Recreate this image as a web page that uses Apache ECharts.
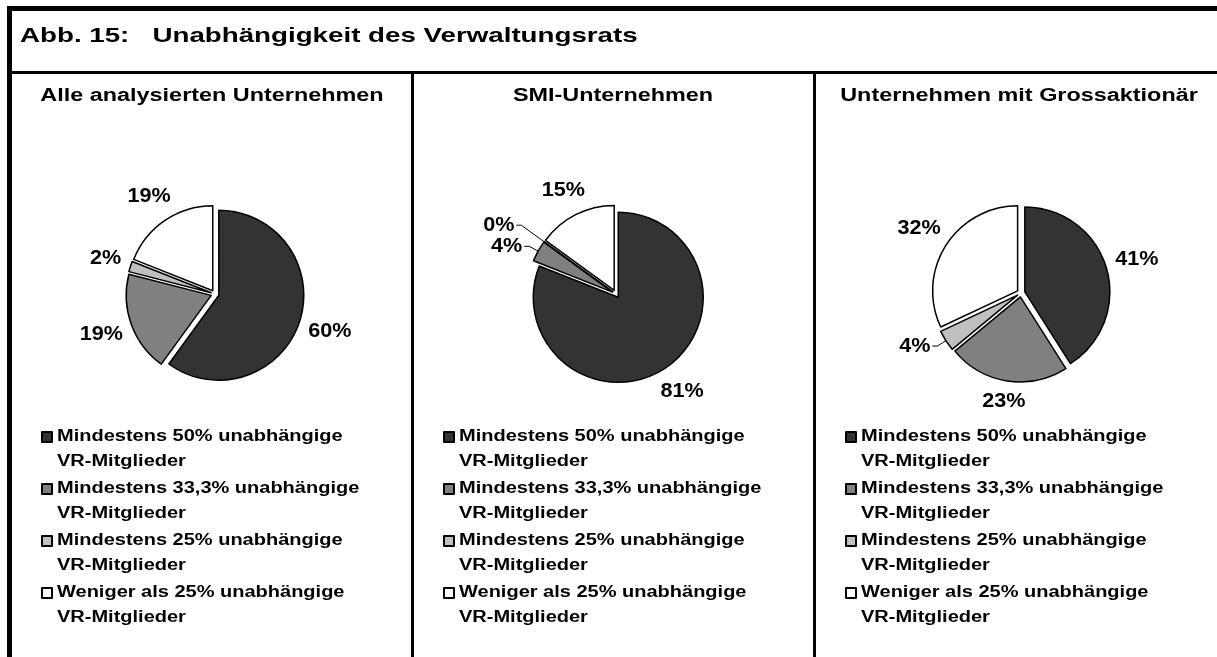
<!DOCTYPE html>
<html><head><meta charset="utf-8">
<script src="https://cdn.jsdelivr.net/npm/echarts@6/dist/echarts.min.js"></script>
<style>html,body{margin:0;padding:0;background:#fff}#c{width:1217px;height:657px}</style>
</head><body><div id="c"></div>
<script>
// ---------- data ----------
const figureTitle = 'Abb. 15:   Unabhängigkeit des Verwaltungsrats';
const groups = ['Alle analysierten Unternehmen', 'SMI-Unternehmen', 'Unternehmen mit Grossaktionär'];
const categories = [
  'Mindestens 50% unabhängige VR-Mitglieder',
  'Mindestens 33,3% unabhängige VR-Mitglieder',
  'Mindestens 25% unabhängige VR-Mitglieder',
  'Weniger als 25% unabhängige VR-Mitglieder'
];
const valuesAlle = [60, 19, 2, 19];
const valuesSMI = [81, 4, 0, 15];
const valuesGross = [41, 23, 4, 32];

// ---------- styling ----------
const FONT = '"Liberation Sans", Arial, Helvetica, sans-serif';
const colors = ['#333333', '#808080', '#c0c0c0', '#ffffff'];
// the reference lettering is horizontally widened; keyed by font size
const STRETCH = { '21': 1.32, '18': 1.3, '16': 1.25, '20': 1.08 };
(function () {
  const proto = window.CanvasRenderingContext2D && CanvasRenderingContext2D.prototype;
  if (!proto) return;
  function stretchOf(ctx) {
    const m = /(\d+(?:\.\d+)?)px/.exec(ctx.font || '');
    return (m && STRETCH[m[1]]) || 1;
  }
  const oFill = proto.fillText, oStroke = proto.strokeText, oMeasure = proto.measureText;
  function wrap(orig) {
    return function (t, x, y, w) {
      const s = stretchOf(this);
      if (s === 1) return w === undefined ? orig.call(this, t, x, y) : orig.call(this, t, x, y, w);
      this.save();
      this.translate(x * (1 - s), 0);
      this.scale(s, 1);
      if (w === undefined) orig.call(this, t, x, y); else orig.call(this, t, x, y, w / s);
      this.restore();
    };
  }
  proto.fillText = wrap(oFill);
  proto.strokeText = wrap(oStroke);
  proto.measureText = function (t) {
    const m = oMeasure.call(this, t);
    const s = stretchOf(this);
    if (s === 1) return m;
    return {
      width: m.width * s,
      actualBoundingBoxLeft: m.actualBoundingBoxLeft * s,
      actualBoundingBoxRight: m.actualBoundingBoxRight * s,
      actualBoundingBoxAscent: m.actualBoundingBoxAscent,
      actualBoundingBoxDescent: m.actualBoundingBoxDescent,
      fontBoundingBoxAscent: m.fontBoundingBoxAscent,
      fontBoundingBoxDescent: m.fontBoundingBoxDescent
    };
  };
})();

const panels = [
  { values: valuesAlle, center: [215, 294], titleX: 212, legendX: 41, lines: [] },
  { values: valuesSMI, center: [616, 294], titleX: 613, legendX: 443, lines: [1, 2] },
  { values: valuesGross, center: [1021, 293], titleX: 1019, legendX: 845, lines: [2] }
];
const R = 85, OFFSET = 4, GAP = 4, LABEL_SIZE = 20;

const mctx = document.createElement('canvas').getContext('2d');
function textWidth(t) {
  mctx.font = 'bold ' + LABEL_SIZE + 'px ' + FONT;
  return mctx.measureText(t).width;
}

// slice-edge anchor points reported by the pie layout
const anchors = {};
function captureAnchor(params) {
  const pts = params.labelLinePoints;
  if (pts) anchors[params.seriesIndex + '-' + params.dataIndex] = pts[0].slice();
  return {};
}

function dataItems(p, tune) {
  return p.values.map((v, i) => {
    const item = {
      name: categories[i], value: v, selected: true,
      itemStyle: { color: colors[i] },
      select: { itemStyle: { color: colors[i] } },
      labelLine: { show: false, length: 8, length2: 0 }
    };
    if (tune && tune[i]) {
      const t = tune[i];
      item.label = { distanceToLabelLine: t.dist };
      item.labelLine = { show: t.leader, length: t.len, length2: t.len2 };
    }
    return item;
  });
}

const chart = echarts.init(document.getElementById('c'), null, { renderer: 'canvas' });

const series = panels.map((p, si) => ({
  type: 'pie',
  name: groups[si],
  center: p.center,
  radius: R,
  startAngle: 90,
  clockwise: true,
  avoidLabelOverlap: false,
  selectedMode: 'multiple',
  selectedOffset: OFFSET,
  animation: false,
  emphasis: { disabled: true },
  itemStyle: { borderColor: '#000', borderWidth: 1.5 },
  select: { itemStyle: { borderColor: '#000', borderWidth: 1.5 } },
  label: {
    show: true, position: 'outside', alignTo: 'none', color: '#000', fontFamily: FONT,
    fontSize: LABEL_SIZE, fontWeight: 'bold', formatter: q => q.value + '%'
  },
  labelLine: { show: false, length: 8, length2: 0, lineStyle: { color: '#000', width: 1 } },
  labelLayout: captureAnchor,
  data: dataItems(p)
}));

const legends = panels.map(p => ({
  orient: 'vertical',
  left: p.legendX,
  top: 399.5,
  padding: 0,
  itemWidth: 10,
  itemHeight: 10,
  itemGap: -23,
  icon: 'rect',
  selectedMode: false,
  // leading empty line keeps the marker level with the first text line
  formatter: n => '\n' + n.replace(' VR-', '\nVR-'),
  textStyle: {
    fontFamily: FONT, fontSize: 16, fontWeight: 'bold', color: '#000', lineHeight: 25
  },
  data: categories
}));

const titles = [{
  text: figureTitle, left: 20, top: 22, padding: 0,
  textStyle: { fontFamily: FONT, fontSize: 21, fontWeight: 'bold', color: '#000' }
}].concat(groups.map((g, i) => ({
  text: g, left: panels[i].titleX, top: 84, padding: 0, textAlign: 'center',
  textStyle: { fontFamily: FONT, fontSize: 18, fontWeight: 'bold', color: '#000' }
})));

const frame = [
  { type: 'line', shape: { x1: 7, y1: 8.5, x2: 1217, y2: 8.5 }, style: { stroke: '#000', lineWidth: 5 } },
  { type: 'line', shape: { x1: 9.5, y1: 6, x2: 9.5, y2: 657 }, style: { stroke: '#000', lineWidth: 5 } },
  { type: 'line', shape: { x1: 7, y1: 72.5, x2: 1217, y2: 72.5 }, style: { stroke: '#000', lineWidth: 3 } },
  { type: 'line', shape: { x1: 412.5, y1: 72, x2: 412.5, y2: 657 }, style: { stroke: '#000', lineWidth: 3 } },
  { type: 'line', shape: { x1: 814.5, y1: 72, x2: 814.5, y2: 657 }, style: { stroke: '#000', lineWidth: 3 } }
];

chart.setOption({
  backgroundColor: '#fff',
  animation: false,
  title: titles,
  legend: legends,
  graphic: frame,
  series: series
});

// Excel-like "outside end" labels: centred on the slice bisector beyond the rim;
// small slices get a leader line instead.
function labelRect(c, t) {
  const px = c[0] + t.dx * (R + t.len) + t.sign * t.len2;
  const py = c[1] + t.dy * (R + t.len);
  const left = t.sign > 0 ? px + t.dist : px - t.dist - t.w;
  return { x: left, y: py - t.h / 2, w: t.w, h: t.h };
}
function overlaps(a, b) {
  return a.x < b.x + b.w && b.x < a.x + a.w && a.y < b.y + b.h && b.y < a.y + a.h;
}
function tuneLabels() {
  return panels.map((p, s) => {
    const c = p.center;
    const tune = p.values.map((v, i) => {
      const a = anchors[s + '-' + i];
      if (!a) return null;
      let dx = a[0] - c[0], dy = a[1] - c[1];
      const L = Math.hypot(dx, dy) || 1; dx /= L; dy /= L;
      const w = textWidth(v + '%'), h = LABEL_SIZE;
      const sign = dx < 0 ? -1 : 1;
      const leader = p.lines.indexOf(i) >= 0;
      if (leader) return { dx, dy, w, h, sign, leader, len: 10, len2: 5, dist: 2 };
      const d = OFFSET + GAP + Math.abs(dx) * w / 2 + Math.abs(dy) * h / 2;
      return { dx, dy, w, h, sign, leader, len: d, len2: 0, dist: -w / 2 };
    });
    for (let i = tune.length - 1; i >= 0; i--) {
      const t = tune[i];
      if (!t || !t.leader) continue;
      let guard = 0;
      while (guard++ < 40 && tune.some((o, j) => o && j !== i && overlaps(labelRect(c, t), labelRect(c, o)))) t.len += 2;
    }
    return tune;
  });
}
function applyTuning() {
  const tunes = tuneLabels();
  chart.setOption({ series: panels.map((p, s) => ({ data: dataItems(p, tunes[s]) })) });
}
if (Object.keys(anchors).length >= 12) applyTuning();
else setTimeout(applyTuning, 0);
</script></body></html>
